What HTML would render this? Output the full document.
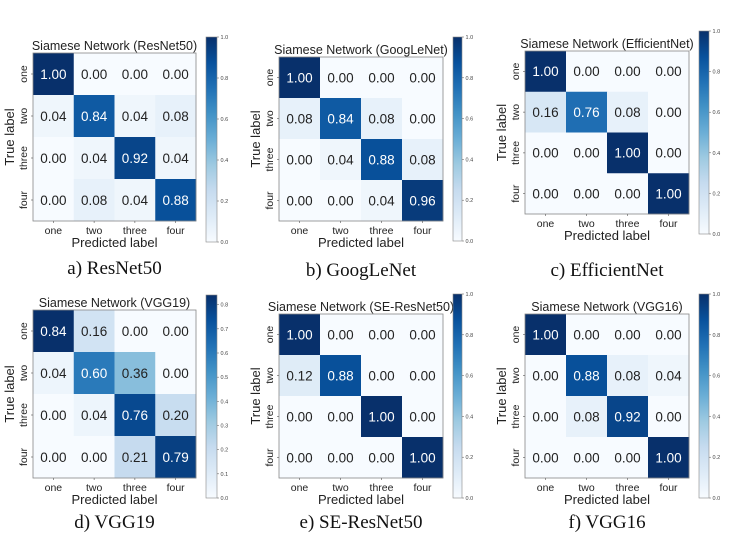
<!DOCTYPE html>
<html><head><meta charset="utf-8">
<style>
body{margin:0;background:#fff;width:756px;height:542px;overflow:hidden}
svg{display:block}
</style></head>
<body>
<svg id="fig" width="756" height="542" viewBox="0 0 756 542" xmlns="http://www.w3.org/2000/svg"></svg>
<script>
const classLabels = ["one","two","three","four"];
const titles = ["ResNet50","GoogLeNet","EfficientNet","VGG19","SE-ResNet50","VGG16"];
const captions = ["a) ResNet50","b) GoogLeNet","c) EfficientNet","d) VGG19","e) SE-ResNet50","f) VGG16"];
const resnet50 = [[1.00,0.00,0.00,0.00],[0.04,0.84,0.04,0.08],[0.00,0.04,0.92,0.04],[0.00,0.08,0.04,0.88]];
const googlenet = [[1.00,0.00,0.00,0.00],[0.08,0.84,0.08,0.00],[0.00,0.04,0.88,0.08],[0.00,0.00,0.04,0.96]];
const efficientnet = [[1.00,0.00,0.00,0.00],[0.16,0.76,0.08,0.00],[0.00,0.00,1.00,0.00],[0.00,0.00,0.00,1.00]];
const vgg19 = [[0.84,0.16,0.00,0.00],[0.04,0.60,0.36,0.00],[0.00,0.04,0.76,0.20],[0.00,0.00,0.21,0.79]];
const seresnet50 = [[1.00,0.00,0.00,0.00],[0.12,0.88,0.00,0.00],[0.00,0.00,1.00,0.00],[0.00,0.00,0.00,1.00]];
const vgg16 = [[1.00,0.00,0.00,0.00],[0.00,0.88,0.08,0.04],[0.00,0.08,0.92,0.00],[0.00,0.00,0.00,1.00]];
const matrices = [resnet50,googlenet,efficientnet,vgg19,seresnet50,vgg16];
const cbTicksA = [0,0.2,0.4,0.6,0.8,1.0];
const cbTicksD = [0,0.1,0.2,0.3,0.4,0.5,0.6,0.7,0.8];
const cbTicks = [cbTicksA,cbTicksA,cbTicksA,cbTicksD,cbTicksA,cbTicksA];

const layout = [
 {x0:33,x1:196,y0:53,y1:221,cx0:206,cx1:217,cy0:37,cy1:242,ty:50,cap:268},
 {x0:279,x1:443,y0:57,y1:221,cx0:453,cx1:462,cy0:37,cy1:241,ty:54,cap:270},
 {x0:525,x1:689,y0:51,y1:214,cx0:699,cx1:709,cy0:31,cy1:234,ty:48,cap:270},
 {x0:33,x1:196,y0:310,y1:478,cx0:206,cx1:217,cy0:295,cy1:498,ty:307,cap:522},
 {x0:279,x1:443,y0:314,y1:478,cx0:453,cx1:462,cy0:294,cy1:498,ty:311,cap:522},
 {x0:525,x1:689,y0:314,y1:478,cx0:699,cx1:709,cy0:294,cy1:498,ty:311,cap:522}
];
const stops=["#f7fbff","#deebf7","#c6dbef","#9ecae1","#6baed6","#4292c6","#2171b5","#08519c","#08306b"];
function hex(h){return [1,3,5].map(i=>parseInt(h.substr(i,2),16));}
function blues(t){t=Math.max(0,Math.min(1,t));const p=t*8,i=Math.min(7,Math.floor(p)),f=p-i;
 const a=hex(stops[i]),b=hex(stops[i+1]);return "rgb("+a.map((v,k)=>Math.round(v+(b[k]-v)*f)).join(",")+")";}
const NS="http://www.w3.org/2000/svg";
const svg=document.getElementById("fig");
function el(tag,attrs,parent,text){const e=document.createElementNS(NS,tag);for(const k in attrs)e.setAttribute(k,attrs[k]);if(text!==undefined)e.textContent=text;(parent||svg).appendChild(e);return e;}
const sans='"Liberation Sans","DejaVu Sans",sans-serif';
matrices.forEach((m,pi)=>{
 const L=layout[pi];
 const g=el("g",{});
 
 
 let vmax=0;m.forEach(r=>r.forEach(v=>{if(v>vmax)vmax=v;}));
 const n=classLabels.length,cw=(L.x1-L.x0)/n,ch=(L.y1-L.y0)/n;
 const xs=j=>L.x0+j*cw, ys=i=>L.y0+i*ch;
 m.forEach((row,i)=>row.forEach((v,j)=>{
  const r=el("rect",{x:xs(j),y:ys(i),width:cw+0.3,height:ch+0.3,fill:blues(v/vmax)},g);
  
  
  const t=el("text",{x:xs(j)+cw/2,y:ys(i)+ch/2+4.8,"text-anchor":"middle","font-size":"13.5","font-family":sans,fill:v>vmax/2?"#fff":"#222"},g,v.toFixed(2));
  
  
 }));
 el("rect",{x:L.x0,y:L.y0,width:L.x1-L.x0,height:L.y1-L.y0,fill:"none",stroke:"#888","stroke-width":"0.8"},g);
 const tt=el("text",{x:(L.x0+L.x1)/2,y:L.ty,"text-anchor":"middle","font-size":"12.5","font-family":sans,fill:"#222"},g,"Siamese Network ("+titles[pi]+")");
 
 
 classLabels.forEach((c,j)=>{
  const xl=el("text",{x:xs(j)+cw/2,y:L.y1+13,"text-anchor":"middle","font-size":"10.5","font-family":sans,fill:"#222"},g,c);
  
  
  el("line",{x1:xs(j)+cw/2,x2:xs(j)+cw/2,y1:L.y1,y2:L.y1+2,stroke:"#555","stroke-width":"0.6"},g);
  const cy=ys(j)+ch/2;
  const yl=el("text",{x:L.x0-6,y:cy,"text-anchor":"middle","font-size":"10.5","font-family":sans,fill:"#222",transform:"rotate(-90 "+(L.x0-6)+" "+cy+")"},g,c);
  
  
  el("line",{x1:L.x0-2,x2:L.x0,y1:cy,y2:cy,stroke:"#555","stroke-width":"0.6"},g);
 });
 const xa=el("text",{x:(L.x0+L.x1)/2,y:L.y1+26,"text-anchor":"middle","font-size":"13","font-family":sans,fill:"#222"},g,"Predicted label");
 
 
 const ymid=(L.y0+L.y1)/2;
 const ya=el("text",{x:L.x0-19,y:ymid,"text-anchor":"middle","font-size":"13","font-family":sans,fill:"#222",transform:"rotate(-90 "+(L.x0-19)+" "+ymid+")"},g,"True label");
 
 
 const gid="grad"+pi;
 const defs=el("defs",{},g);
 const lg=el("linearGradient",{id:gid,x1:"0",y1:"1",x2:"0",y2:"0"},defs);
 stops.forEach((s,k)=>el("stop",{offset:(k/8),"stop-color":s},lg));
 const cb=el("rect",{x:L.cx0,y:L.cy0,width:L.cx1-L.cx0,height:L.cy1-L.cy0,fill:"url(#"+gid+")",stroke:"#888","stroke-width":"0.6"},g);
 
 
 const cbY=v=>L.cy1-(v/vmax)*(L.cy1-L.cy0);
 cbTicks[pi].forEach(v=>{
  const y=cbY(v);
  el("line",{x1:L.cx1,x2:L.cx1+2,y1:y,y2:y,stroke:"#555","stroke-width":"0.5"},g);
  const ct=el("text",{x:L.cx1+3.5,y:y+2,"font-size":"5.5","font-family":sans,fill:"#444"},g,v.toFixed(1));
  
  
 });
 const cap=el("text",{x:(L.x0+L.x1)/2,y:L.cap+6,"text-anchor":"middle","font-size":"19","font-family":'"Liberation Serif",serif',fill:"#111"},g,captions[pi]);
 
 
});
</script>
</body></html>
